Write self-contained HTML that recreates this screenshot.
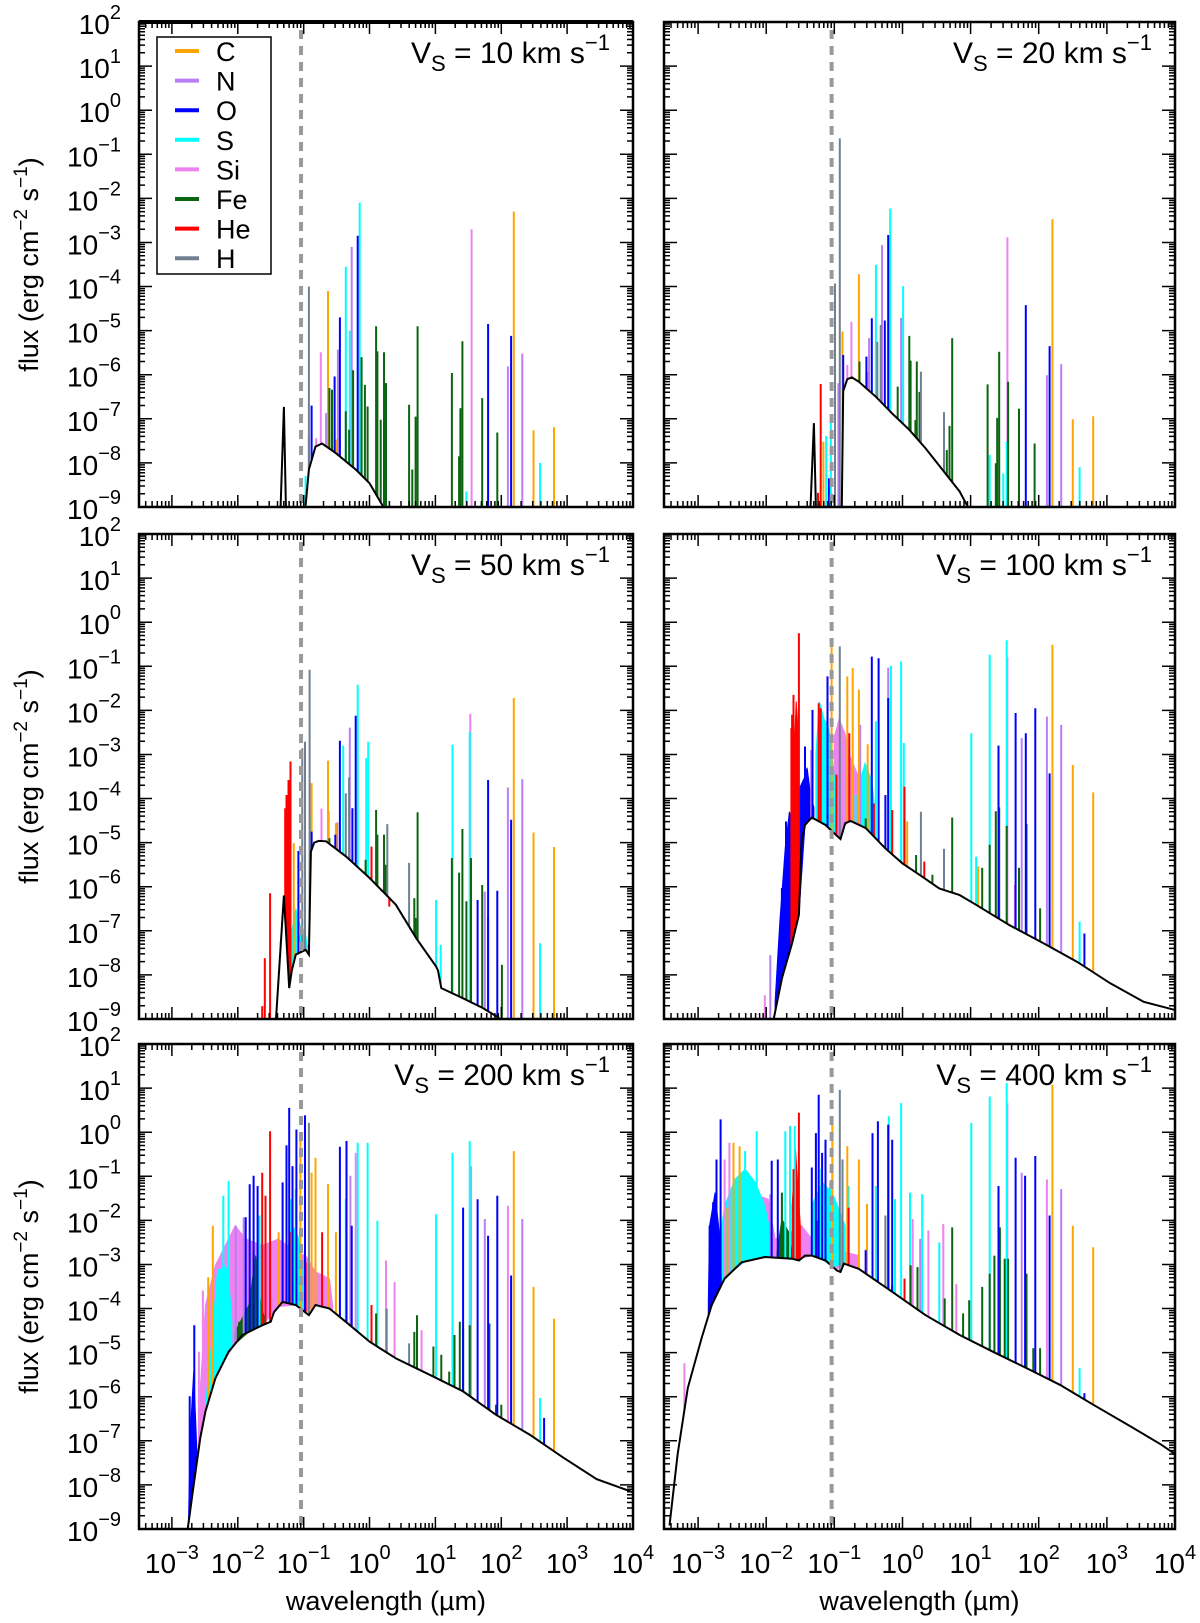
<!DOCTYPE html>
<html><head><meta charset="utf-8"><title>Shock spectra</title>
<style>
body{margin:0;background:#fff;}
svg{display:block;font-family:"Liberation Sans",Arial,sans-serif;}
</style></head>
<body>
<svg id="chart" xmlns="http://www.w3.org/2000/svg" width="1200" height="1623" viewBox="0 0 1200 1623">
<rect x="0" y="0" width="1200" height="1623" fill="#fff"/>
</svg>
<script>
// ===== data (log10 wavelength [um], log10 flux) =====
const elements = ["C","N","O","S","Si","Fe","He","H"];
const elementColors = ["#FFA500","#B97FF5","#0000FF","#00FFFF","#EE82EE","#0B6410","#FF0000","#708090"];
const shockSpeeds = ["10","20","50","100","200","400"];
const xTickExps = [-3,-2,-1,0,1,2,3,4];
const yTickExps = [2,1,0,-1,-2,-3,-4,-5,-6,-7,-8,-9];
const lymanLimit = 0.0912;

// --- Vs = 10
const v10_cont = [[-0.97,-8.97],[-0.92,-8.15],[-0.82,-7.63],[-0.72,-7.56],[-0.51,-7.78],[-0.21,-8.15],[0,-8.46],[0.20,-8.97]];
const v10_spike = [[-1.35,-9],[-1.30,-6.73],[-1.27,-9]];
const v10_C = [[-0.63,-4.1],[2.19,-2.3],[2.49,-7.26],[2.80,-7.19],[-0.51,-7.47]];
const v10_N = [[-0.27,-3.10],[-0.48,-5.43],[2.32,-5.52],[2.10,-5.81],[-0.66,-6.87]];
const v10_O = [[-0.18,-2.85],[-0.88,-6.70],[-0.53,-6.04],[-0.45,-4.7],[1.80,-4.85],[2.15,-5.12]];
const v10_S = [[-0.15,-2.10],[-0.36,-3.55],[1.47,-8.65],[2.59,-8.0],[-0.97,-8.3],[-0.30,-5.0]];
const v10_Si = [[-0.74,-5.49],[1.55,-2.7],[-0.81,-7.44]];
const v10_Fe = [[0.10,-4.9],[0.12,-5.47],[0.22,-5.49],[-0.07,-6.23],[-0.03,-6.72],[-0.61,-6.30],[-0.57,-6.34],[-0.36,-6.83],[-0.31,-7.25],[0.17,-7.02],[0.25,-6.19],[0.60,-6.68],[0.70,-6.95],[0.73,-4.9],[1.25,-5.96],[1.41,-5.24],[1.38,-6.76],[1.71,-6.53],[1.94,-7.31],[1.36,-7.85],[0.65,-8.15],[-0.12,-5.6],[-0.25,-5.9]];
const v10_He = [];
const v10_H = [[-0.92,-4.0],[-0.92,-7.4]];
const v10_bands = [];

// --- Vs = 20
const v20_cont = [[-0.89,-9],[-0.87,-6.37],[-0.81,-6.10],[-0.74,-6.06],[-0.64,-6.16],[-0.39,-6.50],[-0.15,-6.88],[0.10,-7.25],[0.34,-7.67],[0.59,-8.16],[0.84,-8.65],[0.96,-9]];
const v20_spike = [[-1.35,-9],[-1.30,-7.10],[-1.27,-9]];
const v20_C = [[-0.64,-3.72],[-0.88,-5.02],[2.20,-2.47],[2.50,-7.01],[2.80,-6.94],[-1.16,-7.52]];
const v20_N = [[-0.30,-3.06],[-0.02,-4.71],[-0.49,-5.17],[2.12,-6.01],[2.33,-5.76],[-0.94,-6.19]];
const v20_O = [[-0.21,-2.83],[-0.26,-4.77],[-0.45,-4.72],[-0.53,-5.59],[-0.87,-5.55],[1.81,-4.42],[2.16,-5.35],[-1.08,-8.35]];
const v20_S = [[-0.18,-2.23],[-0.39,-3.51],[0.01,-3.99],[-1.12,-7.39],[-1.05,-7.03],[1.28,-7.82],[1.53,-7.52],[1.48,-8.24],[2.60,-8.10],[-0.93,-6.72]];
const v20_Si = [[-0.75,-4.80],[1.54,-2.88],[-0.81,-5.78],[-0.51,-5.93]];
const v20_Fe = [[0.10,-5.12],[0.21,-5.70],[0.12,-5.68],[-0.07,-6.27],[-0.63,-5.70],[0.73,-5.17],[0.69,-7.16],[0.65,-7.71],[1.25,-6.22],[1.42,-5.48],[1.55,-6.16],[1.39,-6.98],[1.71,-6.77],[1.94,-7.56],[1.37,-8.01],[0.19,-7.03],[0.25,-6.39]];
const v20_He = [[-1.20,-6.21],[-1.24,-8.68]];
const v20_H = [[-0.92,-0.64],[-0.99,-3.93],[-0.32,-4.87],[-0.37,-5.25],[0.27,-5.93],[0.61,-6.85]];
const v20_bands = [];

// --- Vs = 50
const v50_cont = [[-1.42,-9],[-1.30,-6.2],[-1.22,-8.3],[-1.18,-7.9],[-1.12,-7.54],[-0.97,-7.43],[-0.92,-7.54],[-0.89,-5.2],[-0.84,-5.0],[-0.77,-4.96],[-0.66,-4.97],[-0.36,-5.31],[0,-5.80],[0.40,-6.41],[0.71,-7.17],[1.01,-7.81],[1.04,-7.9],[1.09,-8.30],[1.42,-8.53],[1.72,-8.75],[1.97,-8.98]];
const v50_spike = [];
const v50_C = [[-0.63,-3.14],[-0.88,-3.65],[2.19,-1.72],[2.49,-4.77],[2.80,-5.10],[-1.15,-5.01],[-1.35,-7.24],[-0.51,-4.56]];
const v50_N = [[-0.30,-2.39],[2.10,-3.75],[2.32,-3.56],[1.75,-6.11],[-0.49,-4.54]];
const v50_O = [[-0.21,-2.12],[-0.45,-2.69],[-0.26,-4.22],[1.80,-3.58],[2.15,-4.48],[1.94,-6.09],[1.64,-6.30],[-1.08,-5.19],[-0.88,-4.75],[-0.52,-4.82]];
const v50_S = [[-0.18,-1.42],[-0.02,-2.71],[-0.05,-3.08],[-0.40,-2.80],[1.26,-2.78],[1.52,-2.49],[1.01,-6.30],[1.08,-7.32],[2.59,-7.28],[-0.89,-4.37]];
const v50_Si = [[1.53,-2.08],[-0.73,-4.23],[-0.62,-4.29],[-0.94,-7.32]];
const v50_Fe = [[0.10,-4.26],[0.22,-4.82],[0.12,-4.82],[0.25,-5.50],[0.73,-4.31],[0.68,-6.26],[0.70,-6.71],[1.41,-4.69],[1.25,-5.35],[1.36,-5.68],[1.54,-5.35],[1.47,-6.33],[1.71,-5.96],[1.80,-6.71],[2.01,-7.77],[-0.61,-4.90],[-0.06,-5.39]];
const v50_He = [[-1.63,-8.71],[-1.59,-7.62],[-1.51,-6.15],[-1.28,-4.22],[-1.26,-3.92],[-1.23,-3.58],[-1.20,-3.16],[0.03,-5.09],[0.30,-6.45]];
const v50_H = [[-0.91,-1.08],[-0.98,-2.71],[-1.02,-2.86],[-0.31,-3.52],[-0.36,-3.88],[0.27,-4.58],[0.60,-5.46]];
const v50_bands = [["S",[[-1.25,-7.2],[-1.22,-6.8],[-1.18,-7.0],[-1.12,-6.5],[-1.05,-6.9],[-0.98,-7.0],[-0.94,-7.4]]]];

// --- Vs = 100
const v100_cont = [[-1.89,-9],[-1.77,-8.08],[-1.62,-7.28],[-1.52,-6.64],[-1.48,-4.98],[-1.43,-4.60],[-1.33,-4.43],[-1.13,-4.60],[-0.98,-4.82],[-0.91,-4.92],[-0.84,-4.56],[-0.76,-4.51],[-0.54,-4.67],[-0.25,-5.13],[0,-5.47],[0.25,-5.73],[0.54,-6.04],[0.84,-6.19],[1.08,-6.41],[1.57,-6.87],[2.07,-7.28],[2.56,-7.70],[3.05,-8.19],[3.54,-8.61],[4.01,-8.80]];
const v100_spike = [];
const v100_C = [[-1.04,-0.38],[-0.73,-1.04],[-0.81,-1.23],[-0.64,-1.53],[-0.51,-2.77],[2.20,-0.51],[2.50,-3.24],[2.80,-3.86],[1.11,-5.54],[0.07,-4.52]];
const v100_N = [[-0.21,-1.03],[-0.62,-2.33],[2.12,-2.14],[2.33,-2.33],[1.75,-2.63],[-1.94,-7.55],[-1.34,-2.90]];
const v100_O = [[-0.45,-0.78],[-0.35,-0.82],[-0.21,-1.72],[-1.32,-1.99],[-1.43,-2.82],[-1.71,-4.52],[-1.77,-6.03],[-1.10,-1.23],[1.66,-2.06],[1.95,-1.95],[1.41,-2.80],[1.81,-2.52],[2.16,-3.43],[2.67,-7.06],[-0.25,-3.92]];
const v100_S = [[-0.02,-0.89],[-0.17,-0.99],[1.28,-0.74],[1.53,-0.41],[1.01,-2.52],[0.02,-2.74],[-0.39,-2.25],[1.08,-5.32],[2.60,-6.79],[-0.69,-3.92]];
const v100_Si = [[1.54,-0.79],[-0.93,-2.33],[-2.02,-8.46],[1.65,-5.96]];
const v100_Fe = [[0.73,-4.43],[1.42,-4.20],[1.37,-4.29],[1.53,-4.62],[1.28,-5.05],[1.71,-5.57],[1.82,-4.58],[1.17,-5.57],[2.02,-6.49],[0.44,-5.73],[0.20,-5.28],[-0.54,-4.45]];
const v100_He = [[-1.52,-0.25],[-1.60,-1.65],[-1.62,-2.10],[-1.63,-2.40],[-1.56,-3.46],[-1.23,-1.84],[-1.20,-1.95],[-0.97,-3.46],[-0.78,-2.52],[-0.42,-4.11],[-0.15,-4.26],[0.03,-3.73],[0.32,-5.43]];
const v100_H = [[-0.92,-0.55],[0.27,-4.30],[0.61,-5.14]];
const v100_bands = [
 ["O",[[-1.87,-8.6],[-1.80,-6.8],[-1.72,-5.1],[-1.66,-4.3],[-1.60,-4.6],[-1.52,-3.8],[-1.43,-3.5],[-1.40,-3.3],[-1.35,-3.9],[-1.30,-4.2]]],
 ["Si",[[-1.0,-2.6],[-0.93,-2.2],[-0.85,-2.5],[-0.78,-3.0],[-0.70,-3.3],[-0.62,-3.6]]],
 ["S",[[-1.27,-3.0],[-1.22,-1.8],[-1.15,-2.2],[-1.08,-2.4],[-1.0,-3.5],[-0.96,-3.9]]],
 ["S",[[-0.66,-3.8],[-0.55,-3.2],[-0.45,-3.6],[-0.40,-4.3]]],
 ["He",[[-1.60,-3.4],[-1.56,-1.8],[-1.52,-2.8]]]];

// --- Vs = 200
const v200_cont = [[-2.76,-9],[-2.67,-8],[-2.57,-6.93],[-2.49,-6.33],[-2.34,-5.58],[-2.14,-4.98],[-1.93,-4.60],[-1.63,-4.38],[-1.50,-4.30],[-1.45,-4.08],[-1.32,-3.85],[-1.12,-3.92],[-0.92,-4.15],[-0.82,-3.92],[-0.61,-4.0],[-0.36,-4.30],[0.0,-4.75],[0.4,-5.13],[0.91,-5.50],[1.42,-5.88],[1.92,-6.41],[2.43,-6.86],[2.94,-7.38],[3.45,-7.87],[3.95,-8.14],[4.01,-8.18]];
const v200_spike = [];
const v200_C = [[-2.45,-3.29],[-2.38,-2.12],[-1.38,-2.27],[-1.05,-0.17],[-0.82,-0.58],[-0.63,-1.18],[-0.51,-2.27],[2.19,-0.43],[2.49,-3.51],[2.80,-4.23],[-0.88,-0.92]];
const v200_N = [[-2.03,-2.12],[-1.91,-1.93],[-0.29,-0.99],[1.75,-1.97],[2.32,-1.97]];
const v200_O = [[-2.73,-5.99],[-2.66,-4.38],[-1.88,-1.93],[-1.82,-1.18],[-1.76,-0.99],[-1.70,-1.22],[-1.32,-1.14],[-1.26,-0.30],[-1.22,0.55],[-1.17,-0.77],[-1.11,0.06],[-0.98,0.38],[-0.45,-0.33],[-0.35,-0.20],[-0.27,-2.12],[1.42,-1.71],[1.64,-1.52],[1.94,-1.44],[1.80,-2.35],[2.15,-3.25],[2.65,-6.48]];
const v200_S = [[-2.30,-3.10],[-2.22,-1.44],[-2.14,-1.11],[-1.67,-1.89],[-1.19,-1.52],[-1.12,-1.29],[-0.18,-0.24],[-0.03,-0.24],[1.01,-1.86],[1.26,-0.47],[1.52,-0.20],[-0.36,-1.52],[2.59,-6.03],[0.12,-2.01]];
const v200_Si = [[-2.59,-4.98],[-2.53,-3.59],[0.25,-2.91],[0.38,-3.40],[1.54,-0.77],[2.10,-1.67],[0.79,-4.49],[-0.21,-0.47]];
const v200_Fe = [[-1.76,-2.72],[-1.71,-3.77],[0.10,-4.11],[0.72,-4.15],[0.68,-4.53],[0.97,-4.86],[1.09,-5.05],[1.29,-4.60],[1.37,-4.30],[1.42,-4.45],[1.52,-4.38],[1.82,-4.34],[1.92,-6.18],[2.0,-6.18],[1.21,-5.43],[-1.98,-4.30]];
const v200_He = [[-1.63,-0.92],[-1.58,-1.44],[-1.51,0.02],[-1.21,-2.27],[-0.97,-2.95],[-0.72,-2.27],[0.03,-3.92]];
const v200_H = [[-0.92,0.21],[0.26,-4.0],[0.60,-4.79]];
const v200_bands = [
 ["Si",[[-2.57,-5.80],[-2.49,-3.92],[-2.34,-3.02],[-2.19,-2.57],[-2.04,-2.12],[-1.88,-2.42],[-1.63,-2.57],[-1.38,-2.42],[-1.12,-2.72],[-0.97,-2.80],[-0.82,-3.17],[-0.61,-3.32],[-0.56,-3.92]]],
 ["S",[[-2.49,-6.18],[-2.39,-4.68],[-2.31,-3.17],[-2.19,-3.02],[-2.14,-3.32],[-2.09,-4.30]]],
 ["S",[[-1.27,-2.80],[-1.17,-2.12],[-1.07,-2.42],[-1.02,-3.17]]],
 ["Fe",[[-2.04,-4.53],[-1.83,-3.92],[-1.73,-2.80],[-1.65,-3.92],[-1.58,-4.30]]],
 ["O",[[-2.75,-8.92],[-2.72,-6.78],[-2.67,-5.43],[-2.62,-7.31]]]];

// --- Vs = 400
const v400_cont = [[-3.42,-8.92],[-3.30,-7.31],[-3.15,-5.80],[-2.95,-4.68],[-2.80,-3.92],[-2.61,-3.32],[-2.36,-2.95],[-2.02,-2.83],[-1.62,-2.87],[-1.52,-2.91],[-1.43,-2.80],[-1.33,-2.80],[-1.13,-2.91],[-0.96,-3.14],[-0.91,-3.17],[-0.86,-2.98],[-0.64,-3.10],[-0.15,-3.62],[0.34,-4.15],[0.84,-4.60],[1.33,-4.98],[1.82,-5.35],[2.31,-5.73],[2.80,-6.18],[3.30,-6.63],[3.79,-7.08],[4.01,-7.31]];
const v400_spike = [];
const v400_C = [[-2.57,-1.71],[-2.48,-0.24],[-2.39,-0.32],[-1.03,0.29],[-0.81,-0.32],[-0.64,-0.62],[-0.52,-1.63],[2.20,1.08],[2.50,-2.12],[2.80,-2.61]];
const v400_N = [[-1.94,-1.41],[1.75,-0.92],[2.33,-1.29],[-0.54,-2.66],[0.26,-2.42]];
const v400_O = [[-2.83,-2.12],[-2.78,-1.59],[-2.73,-0.62],[-2.67,0.29],[-1.92,-0.65],[-1.83,-0.62],[-1.33,-0.80],[-1.27,-0.02],[-1.23,0.85],[-1.18,-0.47],[-1.13,-0.17],[-0.44,-0.02],[-0.36,0.25],[-0.21,0.17],[-0.15,-0.17],[1.41,-1.22],[1.66,-0.58],[1.95,-0.54],[1.80,-0.99],[2.16,-1.89],[2.67,-5.92],[-0.54,-2.68]];
const v400_S = [[-2.46,-1.07],[-2.31,-0.43],[-2.14,0.02],[-1.72,0.02],[-1.65,0.14],[-1.58,0.14],[-1.19,-0.84],[-1.06,-1.14],[-0.79,-1.22],[-0.20,0.36],[-0.02,0.66],[0.11,-1.37],[0.29,-1.41],[0.54,-2.50],[1.01,0.21],[1.28,0.81],[1.53,1.11],[2.60,-5.35],[-0.39,-1.22],[-0.11,-1.52]];
const v400_Si = [[-2.54,-0.24],[-2.61,-0.62],[0.38,-2.23],[0.60,-2.08],[0.79,-3.44],[1.54,0.66],[2.12,-1.07],[0.15,-1.97],[-3.20,-5.24]];
const v400_Fe = [[-1.77,-1.37],[0.73,-2.16],[0.62,-3.77],[0.89,-4.11],[0.98,-3.81],[1.17,-3.51],[1.28,-3.21],[1.35,-2.80],[1.43,-2.16],[1.50,-2.87],[1.55,-2.87],[1.82,-3.21],[1.92,-4.90],[2.02,-4.90],[0.22,-3.06],[0.12,-3.02]];
const v400_He = [[-1.60,-0.84],[-1.52,0.44],[-1.25,-2.01],[-0.79,-1.71],[0.03,-3.32],[-0.15,-3.47]];
const v400_H = [[-0.92,0.96],[-0.88,-0.62],[-0.25,-1.89]];
const v400_bands = [
 ["Si",[[-2.61,-3.17],[-2.51,-2.12],[-2.31,-1.67],[-2.11,-1.44],[-1.97,-1.52],[-1.87,-2.42],[-1.72,-2.35],[-1.48,-2.12],[-1.33,-2.42],[-1.13,-2.12],[-0.98,-2.27],[-0.84,-2.72],[-0.64,-2.80]]],
 ["S",[[-2.80,-3.77],[-2.61,-1.67],[-2.46,-1.07],[-2.31,-0.84],[-2.16,-1.14],[-2.02,-1.67],[-1.92,-2.42]]],
 ["S",[[-1.33,-1.67],[-1.18,-1.14],[-1.03,-1.37],[-0.84,-2.12]]],
 ["Fe",[[-1.84,-2.72],[-1.77,-1.97],[-1.67,-2.27],[-1.62,-2.80]]],
 ["O",[[-2.85,-3.85],[-2.83,-2.12],[-2.75,-1.37],[-2.68,-2.42],[-2.66,-3.32]]],
 ["He",[[-1.62,-1.67],[-1.57,-0.39],[-1.50,-2.12]]]];

// ===== rendering =====
const panels = [
 {x0:139,x1:633,y0:22,y1:507,left:true,bottom:false},
 {x0:664,x1:1175,y0:22,y1:507,left:false,bottom:false},
 {x0:139,x1:633,y0:534,y1:1019,left:true,bottom:false},
 {x0:664,x1:1175,y0:534,y1:1019,left:false,bottom:false},
 {x0:139,x1:633,y0:1044,y1:1529,left:true,bottom:true},
 {x0:664,x1:1175,y0:1044,y1:1529,left:false,bottom:true}];
const panelData = [
 {cont:v10_cont,spike:v10_spike,bands:v10_bands,lines:{C:v10_C,N:v10_N,O:v10_O,S:v10_S,Si:v10_Si,Fe:v10_Fe,He:v10_He,H:v10_H}},
 {cont:v20_cont,spike:v20_spike,bands:v20_bands,lines:{C:v20_C,N:v20_N,O:v20_O,S:v20_S,Si:v20_Si,Fe:v20_Fe,He:v20_He,H:v20_H}},
 {cont:v50_cont,spike:v50_spike,bands:v50_bands,lines:{C:v50_C,N:v50_N,O:v50_O,S:v50_S,Si:v50_Si,Fe:v50_Fe,He:v50_He,H:v50_H}},
 {cont:v100_cont,spike:v100_spike,bands:v100_bands,lines:{C:v100_C,N:v100_N,O:v100_O,S:v100_S,Si:v100_Si,Fe:v100_Fe,He:v100_He,H:v100_H}},
 {cont:v200_cont,spike:v200_spike,bands:v200_bands,lines:{C:v200_C,N:v200_N,O:v200_O,S:v200_S,Si:v200_Si,Fe:v200_Fe,He:v200_He,H:v200_H}},
 {cont:v400_cont,spike:v400_spike,bands:v400_bands,lines:{C:v400_C,N:v400_N,O:v400_O,S:v400_S,Si:v400_Si,Fe:v400_Fe,He:v400_He,H:v400_H}}];
const XMIN=-3.5, XMAX=4, YMIN=-9, YMAX=2;
const NS="http://www.w3.org/2000/svg";
const svg=document.getElementById('chart');
function mk(tag,attrs,parent){const e=document.createElementNS(NS,tag);for(const k in attrs)e.setAttribute(k,attrs[k]);(parent||svg).appendChild(e);return e;}
function X(p,l){return p.x0+(l-XMIN)/(XMAX-XMIN)*(p.x1-p.x0);}
function Y(p,f){return p.y1-(f-YMIN)/(YMAX-YMIN)*(p.y1-p.y0);}
function contAt(c,l){
 if(!c.length||l<c[0][0]||l>c[c.length-1][0])return YMIN;
 for(let i=0;i<c.length-1;i++){const a=c[i],b=c[i+1];if(l>=a[0]&&l<=b[0]){const t=(b[0]===a[0])?0:(l-a[0])/(b[0]-a[0]);return a[1]+t*(b[1]-a[1]);}}
 return YMIN;}
const colorOf={};elements.forEach((e,i)=>colorOf[e]=elementColors[i]);
const drawOrder=["Si","S","N","C","Fe","He","O","H"];

panels.forEach((p,pi)=>{
 const d=panelData[pi];
 const g=mk('g',{});
 
 
 const cid='clip'+pi;
 const cp=mk('clipPath',{id:cid},g);mk('rect',{x:p.x0,y:p.y0,width:p.x1-p.x0,height:p.y1-p.y0},cp);
 const plot=mk('g',{'clip-path':'url(#'+cid+')'},g);
 d.bands.forEach(b=>{
  const el=b[0],pts=b[1];
  let s=pts.map(q=>X(p,q[0]).toFixed(1)+','+Y(p,q[1]).toFixed(1));
  for(let i=pts.length-1;i>=0;i--){s.push(X(p,pts[i][0]).toFixed(1)+','+Y(p,contAt(d.cont,pts[i][0])).toFixed(1));}
  const poly=mk('polygon',{points:s.join(' '),fill:colorOf[el],stroke:colorOf[el],'stroke-width':1},plot);
  
  
 });
 drawOrder.forEach(el=>{
  (d.lines[el]||[]).forEach(q=>{
   const x=X(p,q[0]);const yb=Y(p,contAt(d.cont,q[0]));const yt=Y(p,q[1]);
   const ln=mk('line',{x1:x.toFixed(1),x2:x.toFixed(1),y1:yb.toFixed(1),y2:yt.toFixed(1),stroke:colorOf[el],'stroke-width':2},plot);
   
   
  });
 });
 const cpath=mk('polyline',{points:d.cont.map(q=>X(p,q[0]).toFixed(1)+','+Y(p,q[1]).toFixed(1)).join(' '),fill:'none',stroke:'#000','stroke-width':2},plot);
 
 
 if(d.spike.length){
  const sp=mk('polyline',{points:d.spike.map(q=>X(p,q[0]).toFixed(1)+','+Y(p,q[1]).toFixed(1)).join(' '),fill:'none',stroke:'#000','stroke-width':2},plot);
  
  
 }
 const lx=X(p,Math.log10(lymanLimit));
 const dl=mk('line',{x1:lx,x2:lx,y1:p.y0+8,y2:p.y1,stroke:'#999','stroke-width':4,'stroke-dasharray':'9,7'},g);
 
 
 let tk='';
 for(let dd=-4;dd<=4;dd++)for(let k=1;k<=9;k++){const l=dd+Math.log10(k);if(l<XMIN-1e-6||l>XMAX+1e-6)continue;const x=X(p,l).toFixed(1);const L=(k===1)?12:6;
  tk+=`M${x},${p.y1}v${-L}M${x},${p.y0}v${L}`;}
 for(let dd=-9;dd<=2;dd++)for(let k=1;k<=9;k++){const l=dd+Math.log10(k);if(l<YMIN-1e-6||l>YMAX+1e-6)continue;const y=Y(p,l).toFixed(1);const L=(k===1)?13:6;
  tk+=`M${p.x0},${y}h${L}M${p.x1},${y}h${-L}`;}
 mk('path',{d:tk,stroke:'#000','stroke-width':1.5,fill:'none'},g);
 const fr=mk('rect',{x:p.x0,y:p.y0,width:p.x1-p.x0,height:p.y1-p.y0,fill:'none',stroke:'#000','stroke-width':2.5},g);
 
 
 if(pi===0){mk('line',{x1:p.x0,x2:p.x1,y1:p.y0,y2:p.y0,stroke:'#000','stroke-width':4},g);}
 const an=mk('text',{x:p.x1-23,y:p.y0+41,'text-anchor':'end','font-size':30},g);
 
 
 an.innerHTML='V<tspan dy="8" font-size="22">S</tspan><tspan dy="-8"> = '+shockSpeeds[pi]+' km s</tspan><tspan dy="-13" font-size="22">−1</tspan>';
 if(p.left){
  yTickExps.forEach(n=>{
   const t=mk('text',{x:121,y:(Y(p,n)+12).toFixed(1),'text-anchor':'end','font-size':28},g);
   
   
   t.innerHTML='10<tspan dy="-15" font-size="20">'+String(n).replace('-','−')+'</tspan>';
  });
  const cy=(p.y0+p.y1)/2;
  const yt=mk('text',{x:0,y:0,'text-anchor':'middle','font-size':27,transform:`translate(38,${cy}) rotate(-90)`},g);
  
  
  yt.innerHTML='flux (erg cm<tspan dy="-11" font-size="19">−2</tspan><tspan dy="11"> s</tspan><tspan dy="-11" font-size="19">−1</tspan><tspan dy="11">)</tspan>';
 }
 if(p.bottom){
  xTickExps.forEach(n=>{
   const t=mk('text',{x:X(p,n).toFixed(1),y:1573,'text-anchor':'middle','font-size':28},g);
   
   
   t.innerHTML='10<tspan dy="-14" font-size="20">'+String(n).replace('-','−')+'</tspan>';
  });
  const xt=mk('text',{x:(p.x0+p.x1)/2,y:1610,'text-anchor':'middle','font-size':27},g);
  
  
  xt.textContent='wavelength (µm)';
 }
});
const lg=mk('g',{});


mk('rect',{x:157,y:37,width:114,height:237,fill:'#fff',stroke:'#000','stroke-width':1.5},lg);
elements.forEach((e,i)=>{
 const cy=51+i*29.6;
 const en=mk('g',{},lg);
 
 
 mk('line',{x1:175,x2:199,y1:cy,y2:cy,stroke:elementColors[i],'stroke-width':4},en);
 const t=mk('text',{x:216,y:cy+10,'font-size':27},en);t.textContent=e;
});
</script>
</body></html>
